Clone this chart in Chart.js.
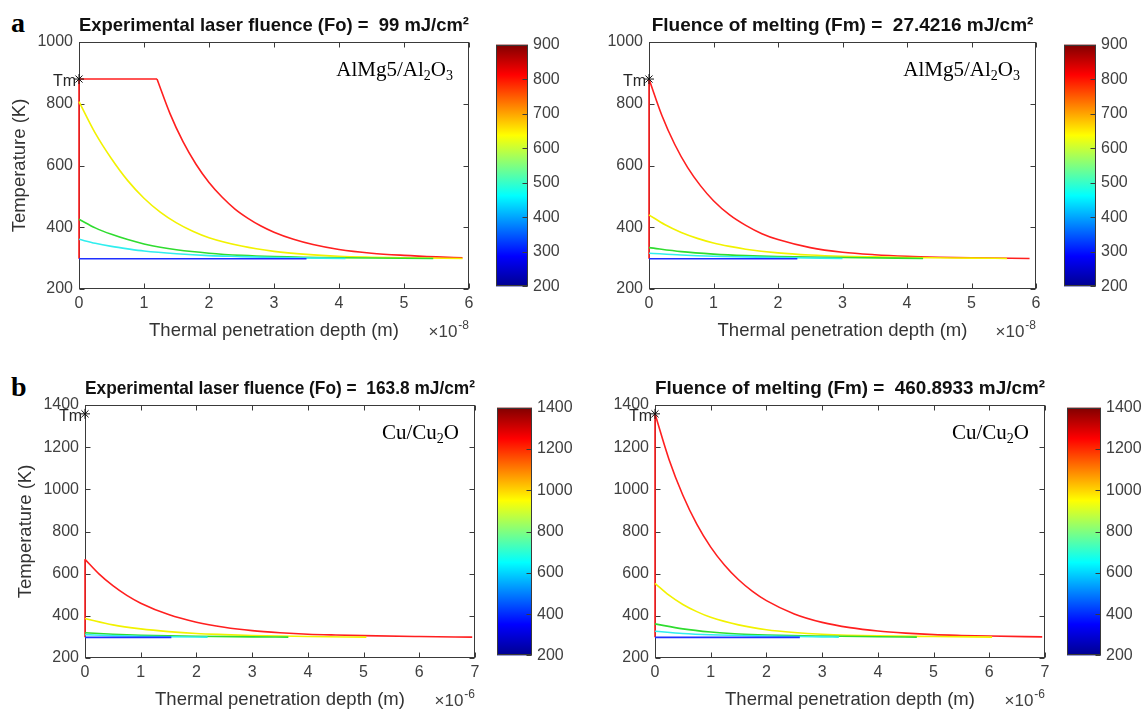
<!DOCTYPE html>
<html>
<head>
<meta charset="utf-8">
<title>Thermal penetration profiles</title>
<script src="https://cdn.jsdelivr.net/npm/chart.js"></script>
<style>
    body {
        margin: 0;
        width: 1142px;
        height: 710px;
        position: relative;
        overflow: hidden;
        background: #ffffff;
    }
    canvas {
        position: absolute;
    }
    .tag {
        position: absolute;
        font: bold 28px "Liberation Serif", "Times New Roman", serif;
        line-height: 28px;
        color: #000000;
    }
</style>
</head>
<body>
<div class="tag" style="left:11px; top:9px;">a</div>
<div class="tag" style="left:11px; top:373px;">b</div>

<script>
// Depth in units of the axis multiplier (1e-8 m for AlMg5, 1e-6 m for Cu), temperature in K
// AlMg5/Al2O3, experimental fluence 99 mJ/cm2
const alTm = 880;
const alFoRise = [[0, 298], [0, 880], [1.2, 880]];
const alFoRed = [[1.2, 880], [1.4, 768], [1.6, 677], [1.8, 604], [2.0, 545], [2.2, 498], [2.4, 459], [2.6, 429], [2.8, 404], [3.0, 384], [3.3, 361], [3.6, 344], [4.0, 328], [4.5, 316], [5.0, 309], [5.5, 304], [5.9, 301]];
const alFoYellow = [[0, 807], [0.25, 705], [0.5, 622], [0.75, 551], [1.0, 494], [1.25, 449], [1.5, 414], [1.75, 387], [2.0, 366], [2.5, 339], [3.0, 322], [3.5, 312], [4.0, 306], [4.5, 303], [5.0, 301], [5.9, 299]];
const alFoGreen = [[0, 426], [0.25, 398], [0.5, 377], [0.75, 360], [1.0, 346], [1.25, 335], [1.5, 327], [2.0, 316], [2.5, 309], [3.0, 305], [4.0, 301], [5.45, 299]];
const alFoCyan = [[0, 361], [0.25, 348], [0.5, 338], [0.75, 330], [1.0, 323], [1.5, 314], [2.0, 308], [2.5, 305], [3.0, 302], [4.1, 299]];
const alFoBlue = [[0, 298], [3.5, 298]];

// AlMg5/Al2O3, fluence of melting 27.4216 mJ/cm2
const alFmRise = [[0, 298], [0, 880]];
const alFmRed = [[0, 880], [0.2, 762], [0.4, 668], [0.6, 593], [0.8, 534], [1.0, 486], [1.25, 440], [1.5, 406], [1.75, 379], [2.0, 360], [2.5, 334], [3.0, 319], [3.5, 311], [4.0, 306], [4.5, 303], [5.0, 301], [5.9, 299]];
const alFmYellow = [[0, 440], [0.25, 408], [0.5, 383], [0.75, 364], [1.0, 349], [1.25, 338], [1.5, 329], [2.0, 317], [2.5, 310], [3.0, 306], [3.5, 304], [4.0, 302], [5.0, 300], [5.55, 299]];
const alFmGreen = [[0, 334], [0.5, 321], [1.0, 313], [1.5, 308], [2.0, 305], [3.0, 302], [4.25, 299]];
const alFmCyan = [[0, 316], [0.5, 310], [1.0, 306], [1.5, 304], [2.0, 302], [3.0, 299]];
const alFmBlue = [[0, 298], [2.3, 298]];

// Cu/Cu2O, experimental fluence 163.8 mJ/cm2
const cuTm = 1358;
const cuFoRise = [[0, 298], [0, 668]];
const cuFoRed = [[0, 668], [0.25, 599], [0.5, 543], [0.75, 497], [1.0, 460], [1.5, 406], [2.0, 370], [2.5, 346], [3.0, 330], [3.5, 320], [4.0, 313], [4.5, 309], [5.0, 306], [6.0, 302], [6.95, 299]];
const cuFoYellow = [[0, 387], [0.5, 357], [1.0, 338], [1.5, 325], [2.0, 316], [2.5, 311], [3.0, 307], [4.0, 302], [5.05, 299]];
const cuFoGreen = [[0, 320], [0.5, 313], [1.0, 308], [1.5, 305], [2.0, 303], [3.0, 300], [3.65, 299]];
const cuFoCyan = [[0, 311], [0.5, 306], [1.0, 303], [1.5, 301], [2.2, 299]];
const cuFoBlue = [[0, 298], [1.55, 298]];

// Cu/Cu2O, fluence of melting 460.8933 mJ/cm2
const cuFmRise = [[0, 298], [0, 1358]];
const cuFmRed = [[0, 1358], [0.25, 1143], [0.5, 972], [0.75, 835], [1.0, 726], [1.25, 640], [1.5, 571], [1.75, 516], [2.0, 472], [2.5, 409], [3.0, 369], [3.5, 344], [4.0, 328], [4.5, 318], [5.0, 311], [5.5, 307], [6.0, 304], [6.95, 300]];
const cuFmYellow = [[0, 554], [0.25, 498], [0.5, 454], [0.75, 420], [1.0, 393], [1.5, 357], [2.0, 334], [2.5, 321], [3.0, 313], [4.0, 305], [5.0, 302], [6.05, 299]];
const cuFmGreen = [[0, 362], [0.5, 338], [1.0, 323], [1.5, 314], [2.0, 309], [3.0, 304], [4.0, 301], [4.7, 299]];
const cuFmCyan = [[0, 327], [0.5, 316], [1.0, 310], [2.0, 304], [3.0, 300], [3.3, 299]];
const cuFmBlue = [[0, 298], [2.6, 298]];

// axis / colorbar ranges
const alTempTicks = [200, 1000, 200];
const cuTempTicks = [200, 1400, 200];
const alBarTicks = [200, 900, 100];
const cuBarTicks = [200, 1400, 200];

// colours
const jetStops = [[0, '#00008f'], [0.125, '#0000ff'], [0.375, '#00ffff'], [0.625, '#ffff00'], [0.875, '#ff0000'], [1, '#800000']];
const lineColors = { red: '#ff1f1f', yellow: '#f2f200', green: '#2fdc2f', cyan: '#30eeee', blue: '#1f2fff' };

Chart.defaults.font.family = '"Liberation Sans", Arial, sans-serif';
Chart.defaults.color = '#404040';
Chart.defaults.animation = false;

const toPts = arr => arr.map(p => ({ x: p[0], y: p[1] }));

function addCanvas(left, top, w, h) {
    const c = document.createElement('canvas');
    c.width = w;
    c.height = h;
    c.style.left = left + 'px';
    c.style.top = top + 'px';
    c.style.width = w + 'px';
    c.style.height = h + 'px';
    document.body.appendChild(c);
    return c;
}

function jetGradient(chart) {
    const a = chart.chartArea;
    if (!a) return '#888888';
    const g = chart.ctx.createLinearGradient(0, a.bottom, 0, a.top);
    jetStops.forEach(s => g.addColorStop(s[0], s[1]));
    return g;
}

// box, inward ticks and the extra labels (Tm, material, x10^n)
const deco = {
    id: 'deco',
    drawBox(chart, o) {
        const { ctx, chartArea: a } = chart;
        const l = Math.round(a.left) + 0.5, t = Math.round(a.top) + 0.5;
        const r = Math.round(a.right) - 0.5, b = Math.round(a.bottom) - 0.5;
        const tl = 5;
        ctx.save();
        ctx.strokeStyle = '#3a3a3a';
        ctx.lineWidth = 1;
        ctx.strokeRect(l, t, r - l, b - t);
        ctx.beginPath();
        if (o.xTicks) {
            const sx = chart.scales.x;
            sx.ticks.forEach(tk => {
                const px = Math.round(sx.getPixelForValue(tk.value)) + 0.5;
                ctx.moveTo(px, b); ctx.lineTo(px, b - tl);
                ctx.moveTo(px, t); ctx.lineTo(px, t + tl);
            });
        }
        const sy = chart.scales.y;
        sy.ticks.forEach(tk => {
            const py = Math.round(sy.getPixelForValue(tk.value)) + 0.5;
            if (o.leftTicks) { ctx.moveTo(l, py); ctx.lineTo(l + tl, py); }
            ctx.moveTo(r, py); ctx.lineTo(r - tl, py);
        });
        ctx.stroke();
        ctx.restore();
    },
    beforeDatasetsDraw(chart, args, o) {
        if (!o.boxOnTop) this.drawBox(chart, o);
    },
    afterDraw(chart, args, o) {
        if (o.boxOnTop) this.drawBox(chart, o);
        const { ctx, chartArea: a, scales } = chart;
        ctx.save();
        if (o.tm) {
            const px = scales.x.getPixelForValue(0), py = scales.y.getPixelForValue(o.tm);
            ctx.font = '16px "Liberation Sans", Arial, sans-serif';
            ctx.fillStyle = '#262626';
            ctx.textAlign = 'right';
            ctx.textBaseline = 'middle';
            ctx.fillText('Tm', px - 3, py + 3);
        }
        if (o.note) {
            const big = '21px "Liberation Serif", "Times New Roman", serif';
            const small = '14px "Liberation Serif", "Times New Roman", serif';
            let total = 0;
            o.note.forEach(n => { ctx.font = n[1] ? small : big; total += ctx.measureText(n[0]).width; });
            let x = a.right - 16;
            x -= total;
            const base = a.top + 34;
            ctx.fillStyle = '#000000';
            ctx.textAlign = 'left';
            ctx.textBaseline = 'alphabetic';
            o.note.forEach(n => {
                ctx.font = n[1] ? small : big;
                ctx.fillText(n[0], x, n[1] ? base + 4 : base);
                x += ctx.measureText(n[0]).width;
            });
        }
        if (o.exp) {
            const f1 = '17px "Liberation Sans", Arial, sans-serif';
            const f2 = '12px "Liberation Sans", Arial, sans-serif';
            ctx.fillStyle = '#404040';
            ctx.textBaseline = 'alphabetic';
            ctx.textAlign = 'right';
            ctx.font = f2;
            const w2 = ctx.measureText(o.exp).width;
            ctx.fillText(o.exp, a.right, a.bottom + 40);
            ctx.font = f1;
            ctx.fillText('\u00d710', a.right - w2 - 1, a.bottom + 48);
        }
        ctx.restore();
    }
};

function drawPanel(p) {
    const yAxisW = 79, titleH = 42, xAxisH = 56, padR = 12;
    const cv = addCanvas(p.L - yAxisW, p.T - titleH, p.R - p.L + yAxisW + padR, p.B - p.T + titleH + xAxisH);
    const c = p.curves;
    const line = (data, color, extra) => Object.assign({
        data: toPts(data), borderColor: color, backgroundColor: color, borderWidth: 1.6,
        pointRadius: 0, showLine: true, fill: false, clip: false, cubicInterpolationMode: 'monotone'
    }, extra || {});

    new Chart(cv, {
        type: 'scatter',
        data: {
            datasets: [
                { data: toPts([[0, p.tm]]), pointStyle: 'star', pointRadius: 5, borderColor: '#111111', backgroundColor: '#111111', borderWidth: 1, showLine: false, clip: false },
                line(c.blue, lineColors.blue),
                line(c.cyan, lineColors.cyan),
                line(c.green, lineColors.green),
                line(c.yellow, lineColors.yellow),
                line(c.red, lineColors.red),
                line(c.rise, lineColors.red, { cubicInterpolationMode: 'default', tension: 0 })
            ]
        },
        options: {
            responsive: false,
            layout: { padding: { left: 0, right: padR, top: 0, bottom: 0 } },
            plugins: {
                legend: { display: false },
                tooltip: { enabled: false },
                title: {
                    display: true, text: p.title, fullSize: false, color: '#111111',
                    font: { size: 19, weight: 'bold' }, padding: { top: 14, bottom: 5.2 }
                },
                deco: { xTicks: true, leftTicks: true, tm: p.tm, note: p.note, exp: p.exp }
            },
            scales: {
                x: {
                    type: 'linear', min: 0, max: p.xMax,
                    grid: { display: false, drawTicks: false },
                    border: { display: false },
                    ticks: { stepSize: 1, autoSkip: false, maxRotation: 0, padding: 5, font: { size: 16 } },
                    title: { display: true, text: 'Thermal penetration depth (m)', color: '#333333', font: { size: 18.5 }, padding: { top: 0, bottom: 3 } },
                    afterFit: s => { s.height = xAxisH; }
                },
                y: {
                    type: 'linear', min: p.yTicks[0], max: p.yTicks[1],
                    grid: { display: false, drawTicks: false },
                    border: { display: false },
                    ticks: { stepSize: p.yTicks[2], autoSkip: false, padding: 6, font: { size: 16 }, callback: v => String(v) },
                    title: { display: p.yLabel, text: 'Temperature (K)', color: '#333333', font: { size: 18.5 }, padding: { top: 9, bottom: 0 } },
                    afterFit: s => { s.width = yAxisW; }
                }
            }
        },
        plugins: [deco]
    });
}

function drawColorbar(cb) {
    const pad = 12, labW = 50;
    const cv = addCanvas(cb.L, cb.T - pad, cb.R - cb.L + labW, cb.B - cb.T + 2 * pad);
    new Chart(cv, {
        type: 'bar',
        data: {
            labels: [''],
            datasets: [{
                data: [[cb.ticks[0], cb.ticks[1]]],
                backgroundColor: ctx => jetGradient(ctx.chart),
                borderWidth: 0, barPercentage: 1, categoryPercentage: 1
            }]
        },
        options: {
            responsive: false,
            layout: { padding: { left: 0, right: 0, top: pad, bottom: pad } },
            plugins: {
                legend: { display: false },
                tooltip: { enabled: false },
                deco: { boxOnTop: true, xTicks: false, leftTicks: false }
            },
            scales: {
                x: { display: false },
                y: {
                    position: 'right', min: cb.ticks[0], max: cb.ticks[1],
                    grid: { display: false, drawTicks: false },
                    border: { display: false },
                    ticks: { stepSize: cb.ticks[2], autoSkip: false, padding: 5, font: { size: 16 }, callback: v => String(v) },
                    afterFit: s => { s.width = labW; }
                }
            }
        },
        plugins: [deco]
    });
}

const alNote = [['AlMg5/Al', 0], ['2', 1], ['O', 0], ['3', 1]];
const cuNote = [['Cu/Cu', 0], ['2', 1], ['O', 0]];

drawPanel({
    L: 79, R: 469, T: 42, B: 289, xMax: 6, yTicks: alTempTicks, yLabel: true, tm: alTm, exp: '-8', note: alNote,
    title: 'Experimental laser fluence (Fo) =  99 mJ/cm\u00b2',
    curves: { rise: alFoRise, red: alFoRed, yellow: alFoYellow, green: alFoGreen, cyan: alFoCyan, blue: alFoBlue }
});
drawPanel({
    L: 649, R: 1036, T: 42, B: 289, xMax: 6, yTicks: alTempTicks, yLabel: false, tm: alTm, exp: '-8', note: alNote,
    title: 'Fluence of melting (Fm) =  27.4216 mJ/cm\u00b2',
    curves: { rise: alFmRise, red: alFmRed, yellow: alFmYellow, green: alFmGreen, cyan: alFmCyan, blue: alFmBlue }
});
drawPanel({
    L: 85, R: 475, T: 405, B: 658, xMax: 7, yTicks: cuTempTicks, yLabel: true, tm: cuTm, exp: '-6', note: cuNote,
    title: 'Experimental laser fluence (Fo) =  163.8 mJ/cm\u00b2',
    curves: { rise: cuFoRise, red: cuFoRed, yellow: cuFoYellow, green: cuFoGreen, cyan: cuFoCyan, blue: cuFoBlue }
});
drawPanel({
    L: 655, R: 1045, T: 405, B: 658, xMax: 7, yTicks: cuTempTicks, yLabel: false, tm: cuTm, exp: '-6', note: cuNote,
    title: 'Fluence of melting (Fm) =  460.8933 mJ/cm\u00b2',
    curves: { rise: cuFmRise, red: cuFmRed, yellow: cuFmYellow, green: cuFmGreen, cyan: cuFmCyan, blue: cuFmBlue }
});

drawColorbar({ L: 496, R: 528, T: 42, B: 289, ticks: alBarTicks });
drawColorbar({ L: 1064, R: 1096, T: 42, B: 289, ticks: alBarTicks });
drawColorbar({ L: 497, R: 532, T: 405, B: 658, ticks: cuBarTicks });
drawColorbar({ L: 1067, R: 1101, T: 405, B: 658, ticks: cuBarTicks });
</script>
</body>
</html>
